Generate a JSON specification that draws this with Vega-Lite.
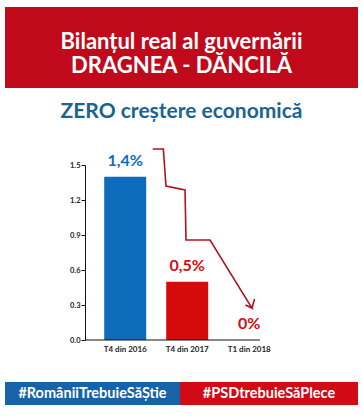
{
  "$schema": "https://vega.github.io/schema/vega-lite/v6.json",
  "background": "white",
  "padding": {"left": 5, "right": 5, "top": 7, "bottom": 0},
  "config": {"view": {"stroke": null}, "font": "Lato"},
  "datasets": {
    "bars": [
      {"period": "T4 din 2016", "value": 1.4, "label": "1,4%"},
      {"period": "T4 din 2017", "value": 0.5, "label": "0,5%"},
      {"period": "T1 din 2018", "value": 0.0, "label": "0%"}
    ],
    "arrow": [
      {"i": 0, "u": 0.439, "v": 1.637},
      {"i": 1, "u": 0.610, "v": 1.637},
      {"i": 2, "u": 0.653, "v": 1.320},
      {"i": 3, "u": 0.960, "v": 1.286},
      {"i": 4, "u": 0.976, "v": 0.857},
      {"i": 5, "u": 1.363, "v": 0.857},
      {"i": 6, "u": 2.040, "v": 0.274},
      {"i": 7, "u": 1.935, "v": 0.300},
      {"i": 8, "u": 2.040, "v": 0.274},
      {"i": 9, "u": 2.081, "v": 0.351}
    ],
    "baseline": [{"u0": -0.653, "u1": 2.169, "v": 0}],
    "header": [{"text": "Bilanțul real al guvernării\nDRAGNEA - DĂNCILĂ"}],
    "tag1": [{"tag": "#RomâniiTrebuieSăȘtie"}],
    "tag2": [{"tag": "#PSDtrebuieSăPlece"}]
  },
  "spacing": 29,
  "vconcat": [
    {
      "bounds": "flush",
      "spacing": 77,
      "vconcat": [
        {
          "width": 353,
          "height": 81,
          "view": {"fill": "#c00a1c", "stroke": null},
          "data": {"name": "header"},
          "mark": {"type": "text", "lineBreak": "\n", "font": "Lato", "fontWeight": "bold", "fontSize": 22, "lineHeight": 24, "color": "white", "baseline": "middle", "align": "center", "dy": -6},
          "encoding": {"text": {"field": "text", "type": "nominal"}}
        },
        {
          "width": 290,
          "height": 175,
          "title": {"text": "ZERO creștere economică", "font": "Lato", "fontSize": 21, "fontWeight": "bold", "color": "#1b6391", "anchor": "middle", "baseline": "alphabetic", "offset": 7, "dx": 31.5},
          "layer": [
            {
              "data": {"name": "bars"},
              "layer": [
                {
                  "mark": {"type": "bar"},
                  "encoding": {
                    "x": {"field": "period", "type": "nominal", "sort": null,
                      "scale": {"paddingInner": 0.323, "paddingOuter": 1, "align": 0.8},
                      "axis": {"title": null, "labelAngle": 0, "ticks": false, "domain": false, "labelPadding": 5, "labelFont": "Lato", "labelFontWeight": "bold", "labelFontSize": 8, "labelColor": "#222"}},
                    "y": {"field": "value", "type": "quantitative", "title": null,
                      "scale": {"domain": [0, 1.5], "nice": false},
                      "axis": {"title": null, "values": [0, 0.3, 0.6, 0.9, 1.2, 1.5], "tickCount": 20, "format": ".1f", "offset": -80, "grid": false, "labelOverlap": false, "tickSize": 4, "labelPadding": 1, "labelFont": "Lato", "labelFontWeight": "bold", "labelFontSize": 7.5, "labelColor": "#222", "domainColor": "#111", "tickColor": "#111"}},
                    "color": {"field": "period", "type": "nominal", "legend": null,
                      "scale": {"domain": ["T4 din 2016", "T4 din 2017", "T1 din 2018"], "range": ["#0f6cbd", "#d40b0b", "#d40b0b"]}}
                  }
                },
                {
                  "mark": {"type": "text", "font": "Lato", "fontWeight": "bold", "fontSize": 16, "baseline": "alphabetic", "dy": -11},
                  "encoding": {
                    "x": {"field": "period", "type": "nominal", "sort": null},
                    "y": {"field": "value", "type": "quantitative", "title": null, "scale": {"domain": [0, 1.5], "nice": false}},
                    "text": {"field": "label", "type": "nominal"},
                    "color": {"field": "period", "type": "nominal", "legend": null}
                  }
                }
              ]
            },
            {
              "layer": [
                {
                  "data": {"name": "arrow"},
                  "mark": {"type": "line", "color": "#b0121f", "strokeWidth": 1.6, "strokeJoin": "miter"},
                  "encoding": {
                    "x": {"field": "u", "type": "quantitative", "scale": {"domain": [-1.944, 2.734], "nice": false, "zero": false}, "axis": null},
                    "y": {"field": "v", "type": "quantitative", "title": null, "scale": {"domain": [0, 1.5], "nice": false}},
                    "order": {"field": "i", "type": "quantitative"}
                  }
                },
                {
                  "data": {"name": "baseline"},
                  "mark": {"type": "rule", "color": "#111", "strokeWidth": 1},
                  "encoding": {
                    "x": {"field": "u0", "type": "quantitative", "axis": null},
                    "x2": {"field": "u1"},
                    "y": {"field": "v", "type": "quantitative", "title": null}
                  }
                }
              ]
            }
          ],
          "resolve": {"scale": {"x": "independent"}, "axis": {"x": "independent"}}
        }
      ]
    },
    {
      "spacing": 0,
      "hconcat": [
        {
          "width": 175,
          "height": 23,
          "view": {"fill": "#1763a8", "stroke": null},
          "data": {"name": "tag1"},
          "mark": {"type": "text", "font": "Lato", "fontWeight": "bold", "fontSize": 14.5, "color": "white", "baseline": "middle", "align": "center"},
          "encoding": {"text": {"field": "tag", "type": "nominal"}}
        },
        {
          "width": 178,
          "height": 23,
          "view": {"fill": "#d10a16", "stroke": null},
          "data": {"name": "tag2"},
          "mark": {"type": "text", "font": "Lato", "fontWeight": "bold", "fontSize": 14.5, "color": "white", "baseline": "middle", "align": "center"},
          "encoding": {"text": {"field": "tag", "type": "nominal"}}
        }
      ]
    }
  ]
}
